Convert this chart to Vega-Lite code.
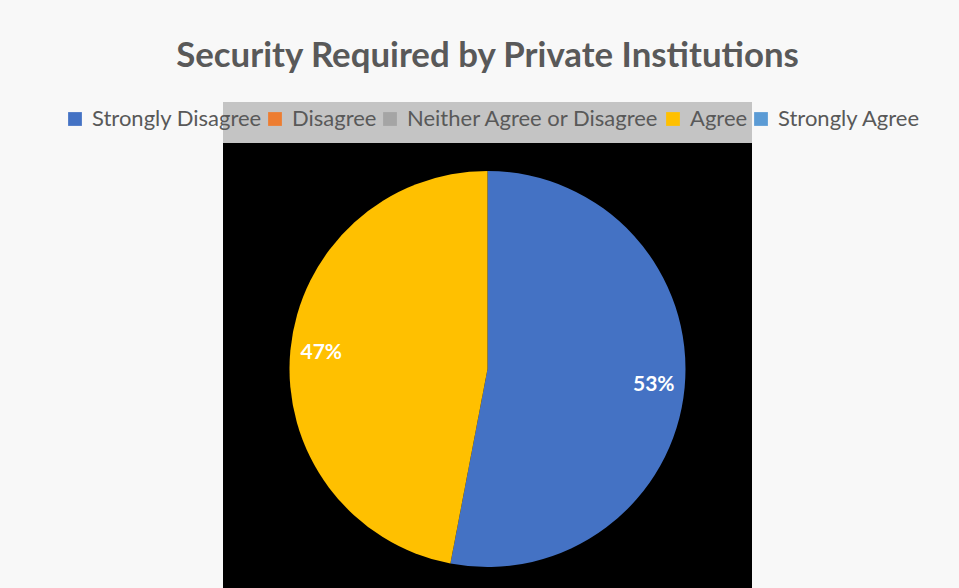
{
  "$schema": "https://vega.github.io/schema/vega-lite/v6.json",
  "autosize": {"type": "pad"},
  "padding": {"left": 64, "top": 39, "right": 60, "bottom": 0},
  "background": "#f8f8f8",
  "title": {
    "text": "Security Required by Private Institutions",
    "font": "Lato",
    "fontSize": 34.8,
    "fontWeight": "bold",
    "color": "#595959",
    "anchor": "middle",
    "frame": "group",
    "offset": 27
  },
  "config": {"view": {"stroke": null}},
  "datasets": {
    "resp": [
      {"response": "Strongly Disagree", "value": 0.53, "k": 1},
      {"response": "Disagree", "value": 0, "k": 2},
      {"response": "Neither Agree or Disagree", "value": 0, "k": 3},
      {"response": "Agree", "value": 0.47, "k": 4},
      {"response": "Strongly Agree", "value": 0, "k": 5}
    ]
  },
  "spacing": 0,
  "vconcat": [
    {
      "width": 529,
      "height": 41,
      "view": {"fill": "#c4c4c4", "stroke": null},
      "data": {"values": [{"t": ""}]},
      "mark": {"type": "text"},
      "encoding": {"text": {"field": "t"}}
    },
    {
      "width": 529,
      "height": 452,
      "view": {"fill": "#000000", "stroke": null},
      "data": {"name": "resp"},
      "encoding": {
        "theta": {"field": "value", "type": "quantitative", "stack": true},
        "order": {"field": "k", "type": "quantitative"}
      },
      "layer": [
        {
          "mark": {"type": "arc", "outerRadius": 198},
          "encoding": {
            "color": {
              "field": "response",
              "type": "nominal",
              "scale": {
                "domain": ["Strongly Disagree", "Disagree", "Neither Agree or Disagree", "Agree", "Strongly Agree"],
                "range": ["#4472C4", "#ED7D31", "#A5A5A5", "#FFC000", "#5B9BD5"]
              },
              "legend": {
                "title": null,
                "orient": "none",
                "direction": "horizontal",
                "columns": 5,
                "legendX": -159,
                "legendY": 6,
                "symbolType": "square",
                "symbolSize": 190,
                "symbolStrokeWidth": 0,
                "labelFont": "Lato",
                "labelFontSize": 22,
                "labelColor": "#595959",
                "labelOffset": 6,
                "columnPadding": 2,
                "labelLimit": 400
              }
            }
          }
        },
        {
          "transform": [{"filter": "datum.value > 0"}],
          "mark": {"type": "text", "radius": 167, "font": "Lato", "fontSize": 21, "fontWeight": "bold", "color": "#ffffff"},
          "encoding": {
            "text": {"field": "value", "type": "quantitative", "format": ".0%"}
          }
        }
      ]
    }
  ]
}
